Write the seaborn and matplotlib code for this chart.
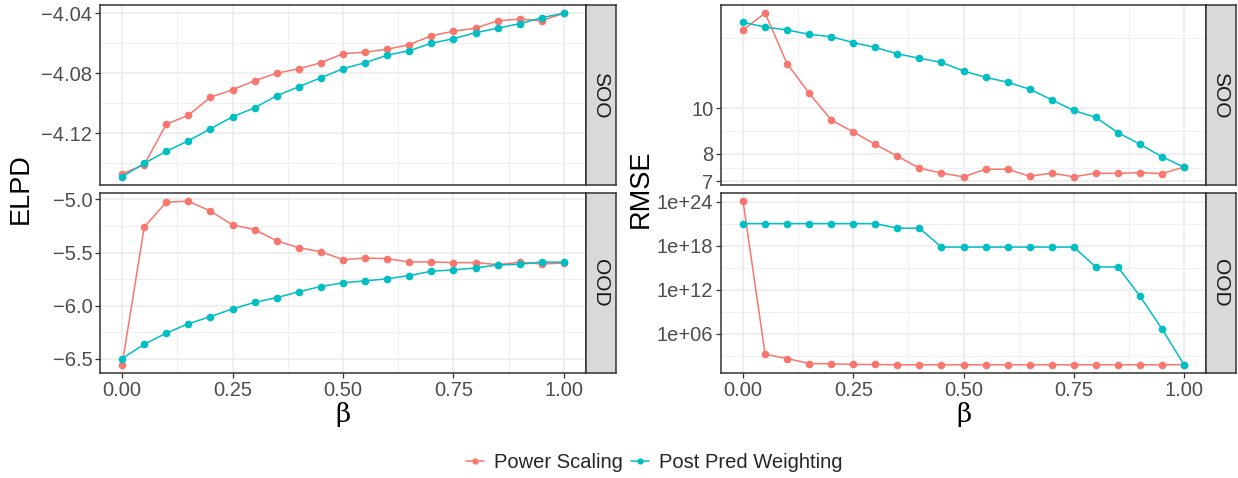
import numpy as np
import pandas as pd
import matplotlib
matplotlib.use("Agg")
import matplotlib.pyplot as plt
from matplotlib.ticker import FixedLocator, FixedFormatter, NullFormatter
from matplotlib.lines import Line2D
import seaborn as sns

# ---------------- data ----------------
beta = [0.00, 0.05, 0.10, 0.15, 0.20, 0.25, 0.30, 0.35, 0.40, 0.45, 0.50,
        0.55, 0.60, 0.65, 0.70, 0.75, 0.80, 0.85, 0.90, 0.95, 1.00]
methods = ["Power Scaling", "Post Pred Weighting"]

elpd_soo_ps = [-4.147, -4.141, -4.114, -4.108, -4.096, -4.091, -4.085, -4.080, -4.077, -4.073, -4.067,
               -4.066, -4.064, -4.061, -4.055, -4.052, -4.050, -4.045, -4.044, -4.045, -4.040]
elpd_soo_ppw = [-4.149, -4.140, -4.132, -4.125, -4.117, -4.109, -4.103, -4.095, -4.089, -4.083, -4.077,
                -4.073, -4.068, -4.065, -4.060, -4.057, -4.053, -4.050, -4.047, -4.043, -4.040]
elpd_ood_ps = [-6.556, -5.261, -5.025, -5.016, -5.109, -5.240, -5.283, -5.389, -5.454, -5.492, -5.566,
               -5.551, -5.557, -5.588, -5.588, -5.594, -5.594, -5.613, -5.591, -5.607, -5.598]
elpd_ood_ppw = [-6.497, -6.363, -6.257, -6.170, -6.102, -6.030, -5.968, -5.924, -5.868, -5.819, -5.784,
                -5.766, -5.747, -5.716, -5.675, -5.663, -5.644, -5.616, -5.610, -5.588, -5.591]
rmse_soo_ps = [14.69, 15.95, 12.45, 10.77, 9.45, 8.91, 8.38, 7.91, 7.46, 7.28, 7.15,
               7.42, 7.42, 7.17, 7.28, 7.15, 7.28, 7.27, 7.30, 7.26, 7.50]
rmse_soo_ppw = [15.25, 14.90, 14.69, 14.38, 14.21, 13.81, 13.48, 13.07, 12.79, 12.53, 12.01,
                11.65, 11.37, 10.99, 10.43, 9.90, 9.57, 8.88, 8.39, 7.89, 7.50]
rmse_ood_ps = [1.2e24, 1.6e3, 4.2e2, 87.0, 79.0, 65.0, 65.0, 58.0, 58.0, 58.0, 58.0,
               58.0, 58.0, 58.0, 58.0, 58.0, 58.0, 58.0, 58.0, 58.0, 62.0]
rmse_ood_ppw = [1.05e21, 1.05e21, 1.05e21, 1.05e21, 1.05e21, 1.05e21, 1.05e21, 2.5e20, 2.5e20, 6.6e17, 6.6e17,
                6.6e17, 6.6e17, 6.6e17, 6.6e17, 6.6e17, 1.3e15, 1.3e15, 1.4e11, 4.8e6, 62.0]

x_ticks = [0.0, 0.25, 0.5, 0.75, 1.0]
x_labels = ["0.00", "0.25", "0.50", "0.75", "1.00"]
elpd_soo_ticks = [-4.12, -4.08, -4.04]
elpd_soo_labels = ["\u22124.12", "\u22124.08", "\u22124.04"]
elpd_ood_ticks = [-6.5, -6.0, -5.5, -5.0]
elpd_ood_labels = ["\u22126.5", "\u22126.0", "\u22125.5", "\u22125.0"]
rmse_soo_ticks = [7, 8, 10, 20]
rmse_soo_labels = ["7", "8", "10", "20"]
rmse_ood_ticks = [1e6, 1e12, 1e18, 1e24]
rmse_ood_labels = ["1e+06", "1e+12", "1e+18", "1e+24"]
strip_labels = ["SOO", "OOD"]

# ---------------- long table ----------------
def block(metric, region, ps, ppw):
    return pd.DataFrame({
        "beta": beta * 2,
        "value": list(ps) + list(ppw),
        "method": [methods[0]] * len(beta) + [methods[1]] * len(beta),
        "metric": metric, "region": region})

df = pd.concat([
    block("ELPD", "SOO", elpd_soo_ps, elpd_soo_ppw),
    block("ELPD", "OOD", elpd_ood_ps, elpd_ood_ppw),
    block("RMSE", "SOO", rmse_soo_ps, rmse_soo_ppw),
    block("RMSE", "OOD", rmse_ood_ps, rmse_ood_ppw),
], ignore_index=True)

# ---------------- style ----------------
sns.set_theme(style="white")
plt.rcParams["font.family"] = ["Liberation Sans", "DejaVu Sans"]
palette = {methods[0]: "#F8766D", methods[1]: "#00BFC4"}
GRID = "#EBEBEB"
DARK = "#333333"
TICKTXT = "#4D4D4D"
TICKSIZE = 14.5

W, H = 1238, 478
fig = plt.figure(figsize=(W / 100, H / 100), dpi=100)

def fr(x0, y0, x1, y1):
    return [x0 / W, 1 - y1 / H, (x1 - x0) / W, (y1 - y0) / H]

cols = {"ELPD": (100, 586, 616), "RMSE": (721, 1206, 1236)}
rows = {"SOO": (5, 185), "OOD": (193, 373)}

def midpoints(vals, log=False):
    out = []
    for a, b in zip(vals[:-1], vals[1:]):
        out.append(np.sqrt(a * b) if log else (a + b) / 2)
    return out

for metric, (px0, px1, sx1) in cols.items():
    for region, (py0, py1) in rows.items():
        ax = fig.add_axes(fr(px0, py0, px1, py1))
        sub = df[(df.metric == metric) & (df.region == region)]
        is_log = metric == "RMSE"
        if is_log:
            ax.set_yscale("log")
        sns.lineplot(data=sub, x="beta", y="value", hue="method", hue_order=methods,
                     palette=palette, marker="o", markersize=5.5, markeredgewidth=0,
                     linewidth=1.1, legend=False, ax=ax, zorder=3)
        # ggplot-style 5% expansion
        ax.set_xlim(-0.05, 1.05)
        vmin, vmax = sub.value.min(), sub.value.max()
        if is_log:
            lo, hi = np.log10(vmin), np.log10(vmax)
            e = 0.05 * (hi - lo)
            ax.set_ylim(10 ** (lo - e), 10 ** (hi + e))
        else:
            e = 0.05 * (vmax - vmin)
            ax.set_ylim(vmin - e, vmax + e)

        if metric == "ELPD" and region == "SOO":
            yt, yl = elpd_soo_ticks, elpd_soo_labels
            ym = [-4.14, -4.10, -4.06]
        elif metric == "ELPD":
            yt, yl = elpd_ood_ticks, elpd_ood_labels
            ym = midpoints(yt)
        elif region == "SOO":
            yt, yl = rmse_soo_ticks, rmse_soo_labels
            ym = midpoints(yt, log=True)
        else:
            yt, yl = rmse_ood_ticks, rmse_ood_labels
            ym = [1e3, 1e9, 1e15, 1e21]

        ax.yaxis.set_major_locator(FixedLocator(yt))
        ax.yaxis.set_major_formatter(FixedFormatter(yl))
        ax.yaxis.set_minor_locator(FixedLocator(ym))
        ax.yaxis.set_minor_formatter(NullFormatter())
        ax.xaxis.set_major_locator(FixedLocator(x_ticks))
        ax.xaxis.set_minor_locator(FixedLocator(midpoints(x_ticks)))
        ax.xaxis.set_minor_formatter(NullFormatter())
        if region == "OOD":
            ax.xaxis.set_major_formatter(FixedFormatter(x_labels))
        else:
            ax.xaxis.set_major_formatter(NullFormatter())

        ax.grid(True, which="major", color=GRID, linewidth=1.1, zorder=0)
        ax.grid(True, which="minor", color=GRID, linewidth=0.55, zorder=0)
        ax.set_axisbelow(True)
        ax.tick_params(which="major", direction="out", length=3.5, width=0.9,
                       color=DARK, labelsize=TICKSIZE, labelcolor=TICKTXT, pad=2,
                       left=True, bottom=True)
        if region == "SOO":
            ax.tick_params(axis="x", which="major", length=0)
        ax.tick_params(which="minor", length=0)
        for s in ax.spines.values():
            s.set_color(DARK)
            s.set_linewidth(1.1)
        ax.set_xlabel("")
        ax.set_ylabel("")
        ax.set_facecolor("white")

        # strip
        sax = fig.add_axes(fr(px1, py0, sx1, py1))
        sax.set_facecolor("#D9D9D9")
        sax.set_xticks([])
        sax.set_yticks([])
        for s in sax.spines.values():
            s.set_color(DARK)
            s.set_linewidth(1.1)
        sax.text(0.5, 0.5, region, rotation=-90, ha="center", va="center",
                 fontsize=15, color="#1A1A1A", transform=sax.transAxes)

    # axis titles
    fig.text((21 if metric == "ELPD" else 641) / W, 1 - 189 / H, metric,
             rotation=90, ha="center", va="center", fontsize=19.5, color="black")
    fig.text(((px0 + px1) / 2) / W, 1 - 402 / H, "\u03b2",
             ha="center", va="top", fontsize=19, color="black",
             family=["DejaVu Serif"])

handles = [Line2D([0], [0], color=palette[m], marker="o", markersize=4.5,
                  markeredgewidth=0, linewidth=1.1) for m in methods]
fig.legend(handles, methods, loc="center", bbox_to_anchor=(654 / W, 1 - 463 / H),
           ncol=2, frameon=False, fontsize=TICKSIZE, handlelength=0.9,
           handletextpad=0.5, columnspacing=0.4)

fig.savefig("out.png", dpi=100, facecolor="white")
